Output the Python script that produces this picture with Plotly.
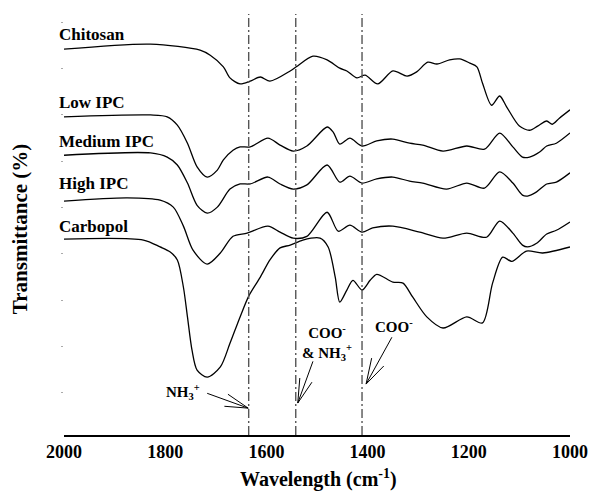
import plotly.graph_objects as go

# ---- data ----
chitosan_wn = [2000, 1829, 1731, 1711, 1685, 1672, 1652, 1632, 1612, 1593, 1553, 1541, 1508, 1480,
               1455, 1441, 1421, 1405, 1380, 1350, 1322, 1303, 1281, 1263, 1238, 1218, 1198, 1184,
               1173, 1155, 1139, 1125, 1100, 1080, 1064, 1046, 1035, 1021, 1000]
chitosan_t = [84.2, 85.3, 84.0, 82.9, 80.4, 78.0, 76.7, 77.3, 78.2, 77.3, 79.5, 80.4, 82.7, 81.9,
              80.1, 79.5, 78.0, 78.6, 76.7, 79.5, 78.4, 79.3, 81.4, 81.0, 81.9, 82.1, 81.2, 80.4,
              76.9, 72.1, 74.1, 71.7, 67.6, 66.7, 67.6, 68.7, 68.0, 69.3, 71.1]

low_wn = [2000, 1829, 1796, 1776, 1756, 1737, 1717, 1697, 1685, 1666, 1652, 1632, 1597, 1573, 1547,
          1520, 1480, 1468, 1455, 1435, 1411, 1382, 1350, 1317, 1291, 1251, 1204, 1169, 1139, 1113,
          1094, 1080, 1060, 1046, 1027, 1000]
low_t = [69.6, 70.0, 69.6, 67.8, 63.9, 58.8, 56.6, 58.1, 60.3, 62.4, 63.1, 63.1, 65.0, 63.5, 62.2,
         63.3, 67.4, 66.3, 63.7, 65.0, 63.3, 64.4, 64.8, 63.9, 63.5, 62.2, 63.3, 62.6, 66.1, 63.1,
         60.9, 60.9, 62.0, 63.3, 63.9, 66.1]

medium_wn = [2000, 1829, 1796, 1776, 1756, 1737, 1717, 1697, 1672, 1652, 1632, 1597, 1573, 1547,
             1520, 1480, 1455, 1435, 1411, 1382, 1350, 1317, 1291, 1244, 1204, 1169, 1139, 1113,
             1094, 1084, 1066, 1046, 1027, 1000]
medium_t = [61.3, 61.8, 60.9, 59.2, 55.3, 50.5, 48.8, 50.1, 54.0, 55.1, 55.1, 56.6, 55.1, 54.0,
            54.9, 59.2, 55.5, 56.8, 55.3, 56.2, 56.6, 55.7, 55.3, 54.0, 55.3, 54.2, 57.7, 55.3,
            52.7, 52.5, 53.4, 55.1, 55.5, 57.5]

high_wn = [2000, 1875, 1810, 1784, 1764, 1745, 1717, 1691, 1666, 1638, 1597, 1573, 1547, 1520,
           1480, 1458, 1435, 1411, 1390, 1350, 1297, 1251, 1204, 1165, 1139, 1113, 1094, 1084,
           1066, 1046, 1027, 1000]
high_t = [51.4, 52.1, 51.6, 50.1, 46.0, 40.8, 37.8, 40.2, 43.8, 44.5, 46.0, 44.7, 43.4, 43.8,
          49.0, 44.9, 46.2, 44.7, 45.6, 46.0, 44.7, 43.4, 44.5, 43.6, 47.1, 44.5, 41.9, 41.5,
          42.3, 44.3, 45.1, 46.9]

carbopol_wn = [2000, 1843, 1810, 1790, 1776, 1764, 1756, 1747, 1737, 1717, 1691, 1672, 1652, 1634,
               1612, 1593, 1573, 1553, 1528, 1494, 1478, 1464, 1455, 1441, 1429, 1411, 1395, 1382,
               1350, 1330, 1311, 1283, 1251, 1204, 1173, 1153, 1133, 1115, 1086, 1054, 1000]
carbopol_t = [43.2, 43.0, 41.5, 40.4, 38.7, 32.8, 26.4, 19.2, 14.9, 13.4, 15.6, 20.7, 26.4, 31.1,
              35.0, 38.7, 41.3, 41.9, 43.0, 43.4, 41.5, 35.0, 29.6, 32.2, 34.3, 32.2, 34.3, 35.6,
              33.9, 33.7, 30.7, 26.4, 24.0, 26.4, 25.1, 33.7, 39.3, 38.4, 40.6, 40.2, 41.5]

series_names = ["Chitosan", "Low IPC", "Medium IPC", "High IPC", "Carbopol"]
label_y = [87.3, 72.8, 64.3, 55.3, 46.0]

marker_lines = [1635, 1542, 1411]

x_ticks = [2000, 1800, 1600, 1400, 1200, 1000]

# annotation arrows: text, text position, tail, tip, wing1, wing2
arrows = [
    ("NH<sub>3</sub><sup>+</sup>", (1764, 10.2), (1717, 9.9), (1636, 6.7), (1676, 9.7), (1683, 7.1)),
    ("COO<sup>-</sup><br>& NH<sub>3</sub><sup>+</sup>", (1480, 20.8), (1508, 16.8), (1538, 7.8), (1534, 13.2), (1510, 12.3)),
    ("COO<sup>-</sup>", (1348, 24.4), (1352, 22.0), (1403, 11.9), (1392, 17.5), (1368, 15.8)),
]

FONT = "Liberation Serif, Times New Roman, serif"

fig = go.Figure()
all_x = [chitosan_wn, low_wn, medium_wn, high_wn, carbopol_wn]
all_y = [chitosan_t, low_t, medium_t, high_t, carbopol_t]
for name, xs, ys in zip(series_names, all_x, all_y):
    fig.add_trace(go.Scatter(x=xs, y=ys, mode="lines", name=name,
                             line=dict(color="black", width=1.3, shape="spline", smoothing=0.8),
                             showlegend=False))

for xv in marker_lines:
    fig.add_shape(type="line", x0=xv, x1=xv, y0=0, y1=1, xref="x", yref="paper",
                  line=dict(color="#555555", width=1.4, dash="9px,3px,2px,3px"))

for name, yv in zip(series_names, label_y):
    fig.add_annotation(text="<b>%s</b>" % name, x=-0.013, xref="paper", y=yv, yref="y",
                       xanchor="left", yanchor="middle", showarrow=False,
                       font=dict(family=FONT, size=17, color="black"))

for text, tp, tail, tip, w1, w2 in arrows:
    fig.add_annotation(text="<b>%s</b>" % text, x=tp[0], y=tp[1], xref="x", yref="y",
                       showarrow=False, font=dict(family=FONT, size=15, color="black"),
                       xanchor="center", yanchor="middle")
    for p in (tail, w1, w2):
        fig.add_shape(type="line", x0=p[0], y0=p[1], x1=tip[0], y1=tip[1], xref="x", yref="y",
                      line=dict(color="black", width=1))

# axis titles as annotations (fixed placement)
fig.add_annotation(text="<b>Wavelength (cm<sup>-1</sup>)</b>", x=0.502, y=-0.103, xref="paper", yref="paper",
                   xanchor="center", yanchor="middle", showarrow=False,
                   font=dict(family=FONT, size=20, color="black"))
fig.add_annotation(text="<b>Transmittance (%)</b>", x=-0.088, y=0.49, xref="paper", yref="paper",
                   xanchor="center", yanchor="middle", showarrow=False, textangle=-90,
                   font=dict(family=FONT, size=21, color="black"))

fig.update_layout(
    width=590, height=494,
    margin=dict(l=63.5, r=19.5, t=14, b=59, autoexpand=False),
    paper_bgcolor="white", plot_bgcolor="white",
    font=dict(family=FONT, color="black"),
)
fig.update_xaxes(range=[2000, 1000], tickvals=x_ticks, ticktext=["<b>%d</b>" % v for v in x_ticks],
                 tickfont=dict(family=FONT, size=18, color="black"), automargin=False,
                 showline=True, linecolor="black", linewidth=1.5, showgrid=False, zeroline=False,
                 ticks="")
fig.update_yaxes(range=[0.9, 91.8], showticklabels=False, showgrid=False, zeroline=False,
                 showline=False, ticks="outside", ticklen=2, tickwidth=1, tickcolor="#aaaaaa",
                 tick0=0, dtick=10, automargin=False)

fig.write_html("out.html")
